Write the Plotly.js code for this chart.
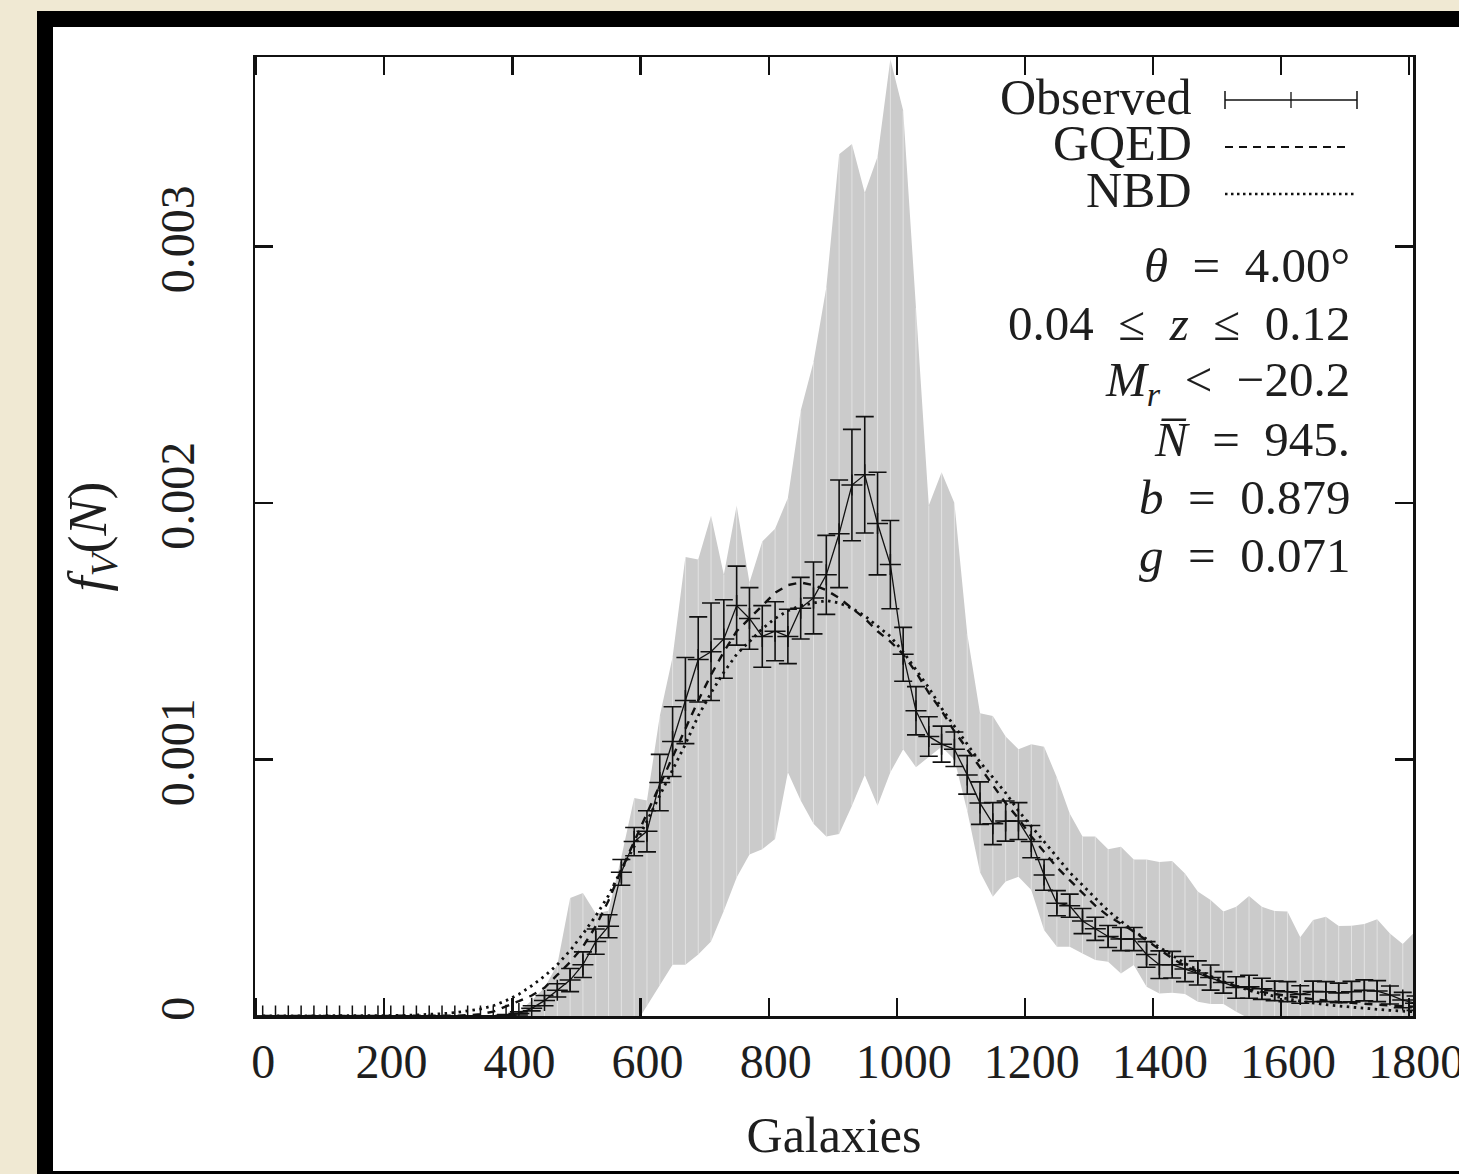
<!DOCTYPE html>
<html>
<head>
<meta charset="utf-8">
<script src="https://cdn.plot.ly/plotly-3.0.1.min.js"></script>
<style>
html,body{margin:0;padding:0;background:#f0e9d3;width:1459px;height:1174px;overflow:hidden}
#frame{position:absolute;left:37px;top:11px;width:1500px;height:1200px;background:#000}
#inner{position:absolute;left:53px;top:27px;width:1500px;height:1144px;background:#fff}
#chart{position:absolute;left:0;top:0;width:1459px;height:1174px}
</style>
</head>
<body>
<div id="frame"></div>
<div id="inner"></div>
<div id="chart"></div>
<script>
// Bin centres (number of galaxies N)
const N = [10,30,50,70,90,110,130,150,170,190,
 210,230,250,270,290,310,330,350,370,390,
 410,430,450,470,490,510,530,550,570,590,
 610,630,650,670,690,710,730,750,770,790,
 810,830,850,870,890,910,930,950,970,990,
 1010,1030,1050,1070,1090,1110,1130,1150,1170,1190,
 1210,1230,1250,1270,1290,1310,1330,1350,1370,1390,
 1410,1430,1450,1470,1490,1510,1530,1550,1570,1590,
 1610,1630,1650,1670,1690,1710,1730,1750,1770,1790,
 1810];

// Observed f_V(N) and its error
const observed = [0,0,0,0,0,0,0,0,0,0,
 0,0,0,0,0,0,0,0,0,0.000003,
 0.00001,0.00003,0.00006,0.0001,0.00014,0.0002,0.00029,0.00035,0.00056,0.00068,
 0.00072,0.00091,0.00107,0.00123,0.00139,0.00142,0.00147,0.0016,0.00155,0.00148,
 0.0015,0.00148,0.00159,0.00163,0.00172,0.00188,0.00207,0.00211,0.00192,0.00176,
 0.00141,0.00119,0.00109,0.00106,0.00104,0.00094,0.00083,0.00075,0.00076,0.00076,
 0.00068,0.00055,0.00044,0.00043,0.00037,0.00034,0.00031,0.0003,0.0003,0.00024,
 0.0002,0.0002,0.000183,0.000168,0.00015,0.000131,0.000111,0.000114,0.000106,0.000098,
 0.000095,0.000084,0.000096,0.000095,0.00009,0.000095,0.0001,0.000097,0.000082,0.000062,
 0.00005];

const observedErr = [0,0,0,0,0,0,0,0,0,0,
 0,0,0,0,0,0,0,0,0,0.000003,
 0.000006,0.00001,0.00002,0.000026,0.000045,0.00005,0.000049,0.000045,0.00005,0.000055,
 0.00008,0.00011,0.000136,0.000168,0.000166,0.00019,0.000153,0.000154,0.00012,0.00012,
 0.000115,0.000106,0.00012,0.00014,0.000154,0.00021,0.000217,0.000227,0.0002,0.000172,
 0.000105,0.000094,0.000077,0.00007,0.000067,0.000075,0.000083,0.000082,0.000078,0.000072,
 0.000063,0.00006,0.000049,0.000045,0.000049,0.000045,0.000043,0.000045,0.000045,0.00005,
 0.000054,0.000052,0.000049,0.000047,0.000049,0.000042,0.000042,0.000045,0.000041,0.000038,
 0.000039,0.000034,0.00004,0.000039,0.000038,0.00004,0.000041,0.000041,0.000035,0.00003,
 0.000028];

// GQED model
const gqed = [0,0,0,0,0,0,0,0,0,0,
 0,0,0,0,0,0.000001,0.000003,0.000007,0.000017,0.000036,
 0.000058,0.00008,0.00011,0.00016,0.00021,0.00027,0.00035,0.00045,0.00057,0.00068,
 0.00079,0.0009,0.00101,0.00112,0.00123,0.00133,0.00142,0.0015,0.00155,0.0016,
 0.00165,0.00168,0.00169,0.00168,0.00166,0.00163,0.00159,0.00155,0.0015,0.00146,
 0.00141,0.00134,0.00126,0.00119,0.00111,0.00104,0.00097,0.0009,0.00083,0.00077,
 0.0007,0.00064,0.00058,0.00053,0.00048,0.00043,0.00039,0.00036,0.00033,0.000295,
 0.00026,0.000225,0.000195,0.00017,0.000148,0.00013,0.000116,0.000104,0.000094,0.000085,
 0.000078,0.000071,0.000065,0.00006,0.000055,0.000051,0.000047,0.000044,0.000041,0.000038,
 0.000036];

// NBD model
const nbd = [0,0,0,0,0,0,0,0,0,0,
 0,0.000002,0.000004,0.000006,0.000009,0.000013,0.000019,0.000027,0.00004,0.00006,
 0.000085,0.000118,0.000155,0.0002,0.000255,0.00032,0.00039,0.00047,0.00057,0.00066,
 0.00076,0.00086,0.00096,0.00106,0.00117,0.00126,0.00134,0.00141,0.00146,0.00151,
 0.00155,0.00158,0.0016,0.00161,0.00162,0.00161,0.00159,0.00156,0.00152,0.00148,
 0.00142,0.00135,0.00128,0.0012,0.00113,0.00106,0.00099,0.00093,0.00087,0.0008,
 0.00074,0.00068,0.00062,0.00056,0.00051,0.00046,0.00041,0.00037,0.00033,0.0003,
 0.00027,0.000237,0.000205,0.00018,0.000155,0.000134,0.000116,0.0001,0.000087,0.000076,
 0.000067,0.000058,0.00005,0.000044,0.000039,0.000034,0.00003,0.000026,0.000022,0.000019,
 0.000016];

// Grey band: upper and lower envelope
const bandUpper = [0,0,0,0,0,0,0,0,0,0,
 0,0,0,0,0,0,0,0,0,0,
 0.000017,0.00006,0.00011,0.0002,0.00046,0.00048,0.0004,0.00041,0.00062,0.00085,
 0.00084,0.00117,0.0014,0.00179,0.00178,0.00195,0.00172,0.00199,0.00169,0.00185,
 0.0019,0.00202,0.00236,0.00255,0.00284,0.00336,0.0034,0.00321,0.00335,0.00373,
 0.00353,0.00276,0.00199,0.00212,0.002,0.00149,0.00118,0.00117,0.00109,0.00104,
 0.00106,0.00105,0.00093,0.00079,0.0007,0.0007,0.00065,0.00066,0.00061,0.00061,
 0.0006,0.000604,0.000556,0.000485,0.000452,0.000407,0.000426,0.000468,0.000426,0.000409,
 0.000407,0.000307,0.000374,0.000387,0.000351,0.000352,0.000359,0.000377,0.000322,0.000281,
 0.00033];

const bandLower = [0,0,0,0,0,0,0,0,0,0,
 0,0,0,0,0,0,0,0,0,0,
 0,0,0,0,0,0,0,0,0,-0.00004,
 0.00004,0.00012,0.0002,0.0002,0.00024,0.00029,0.00041,0.00054,0.00063,0.00065,
 0.00069,0.00095,0.00084,0.00075,0.0007,0.00071,0.00082,0.00094,0.00082,0.00095,
 0.00104,0.00097,0.00101,0.00105,0.001,0.0008,0.00056,0.000465,0.000524,0.000543,
 0.000491,0.000335,0.00027,0.00027,0.000244,0.000218,0.000212,0.000166,0.000199,0.000114,
 0.000088,0.000091,0.000086,0.000056,0.000047,0.000047,0.000017,-0.00001,0,0,
 0,0,0,0,0,0,0,0,0,0,
 0];

const xTicks = [0,200,400,600,800,1000,1200,1400,1600,1800];
const yTicks = [0,0.001,0.002,0.003];
const yTickText = ['0','0.001','0.002','0.003'];

const FONT = '"Liberation Serif", "DejaVu Serif", serif';
const INK = '#1e1e1e';
const SP = '\u2002'; // wider space around relations, as in TeX math

// seams of the filled band (one thin light line per bin)
const seamX = [], seamY = [];
for (let i = 0; i < N.length; i++) {
  seamX.push(N[i], N[i], null);
  seamY.push(bandLower[i], bandUpper[i], null);
}

const traces = [
  {x: N, y: bandLower, type: 'scatter', mode: 'lines',
   line: {width: 0, color: 'rgba(0,0,0,0)'}, hoverinfo: 'skip'},
  {x: N, y: bandUpper, type: 'scatter', mode: 'lines', fill: 'tonexty',
   fillcolor: '#cbcbcb', line: {width: 0, color: 'rgba(0,0,0,0)'}, hoverinfo: 'skip'},
  {x: seamX, y: seamY, type: 'scatter', mode: 'lines',
   line: {width: 1, color: 'rgba(255,255,255,0.45)'}, hoverinfo: 'skip'},
  {x: N, y: nbd, type: 'scatter', mode: 'lines', name: 'NBD',
   line: {width: 2.8, color: '#111', dash: '2.5px,4.5px'}},
  {x: N, y: gqed, type: 'scatter', mode: 'lines', name: 'GQED',
   line: {width: 2.4, color: '#111', dash: '8px,7px'}},
  {x: N, y: observed, type: 'scatter', mode: 'lines+markers', name: 'Observed',
   line: {width: 1.3, color: '#111'},
   marker: {symbol: 'cross-thin', size: 15, line: {width: 1.5, color: '#111'}},
   error_y: {type: 'data', array: observedErr, visible: true, color: '#111', thickness: 1.6, width: 9}}
];

// helpers for paper coordinates from the plot frame
const L = 255, R = 1413, T = 57, B = 1016;
const px = v => (v - L) / (R - L);
const py = v => (B - v) / (B - T);

const shapes = [
  // legend sample: Observed (error-bar style)
  {type: 'line', xref: 'paper', yref: 'paper', x0: px(1225), x1: px(1357), y0: py(100), y1: py(100), line: {color: '#111', width: 1.3}},
  {type: 'line', xref: 'paper', yref: 'paper', x0: px(1225), x1: px(1225), y0: py(91), y1: py(109), line: {color: '#111', width: 1.5}},
  {type: 'line', xref: 'paper', yref: 'paper', x0: px(1357), x1: px(1357), y0: py(91), y1: py(109), line: {color: '#111', width: 1.5}},
  {type: 'line', xref: 'paper', yref: 'paper', x0: px(1291), x1: px(1291), y0: py(92), y1: py(108), line: {color: '#111', width: 1.3}},
  // legend sample: GQED
  {type: 'line', xref: 'paper', yref: 'paper', x0: px(1225), x1: px(1351), y0: py(147), y1: py(147), line: {color: '#111', width: 2, dash: '8px,6px'}},
  // legend sample: NBD
  {type: 'line', xref: 'paper', yref: 'paper', x0: px(1225), x1: px(1354), y0: py(194), y1: py(194), line: {color: '#111', width: 2.5, dash: '2.5px,3.5px'}}
];

const tf = {family: FONT, size: 48, color: INK};
const annFont = {family: FONT, size: 50, color: INK};
const mathFont = {family: FONT, size: 49, color: INK};
const ann = (text, xr, yr, f) => ({text: text, xref: 'paper', yref: 'paper', x: px(xr), y: py(yr),
  xanchor: 'right', yanchor: 'middle', showarrow: false, font: f || annFont});

const annotations = [
  ann('Observed', 1194, 97),
  ann('GQED', 1194, 143),
  ann('NBD', 1194, 190),
  ann('<i>θ</i>' + SP + '=' + SP + '4.00°', 1352, 265, mathFont),
  ann('0.04' + SP + '≤' + SP + '<i>z</i>' + SP + '≤' + SP + '0.12', 1352, 323, mathFont),
  ann('<i>M</i><sub><i>r</i></sub>' + SP + '&lt;' + SP + '−20.2', 1352, 382, mathFont),
  ann('<i>N\u0305</i>' + SP + '=' + SP + '945.', 1352, 440, mathFont),
  ann('<i>b</i>' + SP + '=' + SP + '0.879', 1352, 497, mathFont),
  ann('<i>g</i>' + SP + '=' + SP + '0.071', 1352, 555, mathFont)
];

const layout = {
  width: 1459, height: 1174,
  margin: {l: L, r: 1459 - R, t: T, b: 1174 - B, pad: 0},
  paper_bgcolor: 'rgba(0,0,0,0)', plot_bgcolor: '#fff',
  showlegend: false,
  font: {family: FONT, color: INK},
  xaxis: {
    range: [-2, 1806], tickvals: xTicks, ticktext: xTicks.map(String),
    ticks: 'inside', ticklen: 18, tickwidth: 2.2, tickcolor: '#111',
    showline: true, linewidth: 2.5, linecolor: '#111', mirror: 'ticks',
    showgrid: false, zeroline: false, tickfont: tf,
    ticklabelstandoff: 2, ticklabelshift: 7, ticklabeloverflow: 'allow',
    title: {text: 'Galaxies', font: {family: FONT, size: 50, color: INK}, standoff: 30}
  },
  yaxis: {
    range: [0, 0.003739], tickvals: yTicks, ticktext: yTickText, tickangle: -90,
    ticks: 'inside', ticklen: 18, tickwidth: 2.2, tickcolor: '#111',
    showline: true, linewidth: 2.5, linecolor: '#111', mirror: 'ticks',
    showgrid: false, zeroline: false, tickfont: tf,
    ticklabelstandoff: 39, ticklabeloverflow: 'allow',
    title: {text: '<i>f</i><sub><i>V</i></sub>(<i>N</i>)', font: {family: FONT, size: 54, color: INK}, standoff: 28}
  },
  shapes: shapes,
  annotations: annotations
};

Plotly.newPlot('chart', traces, layout, {staticPlot: true, displayModeBar: false});
</script>
</body>
</html>
